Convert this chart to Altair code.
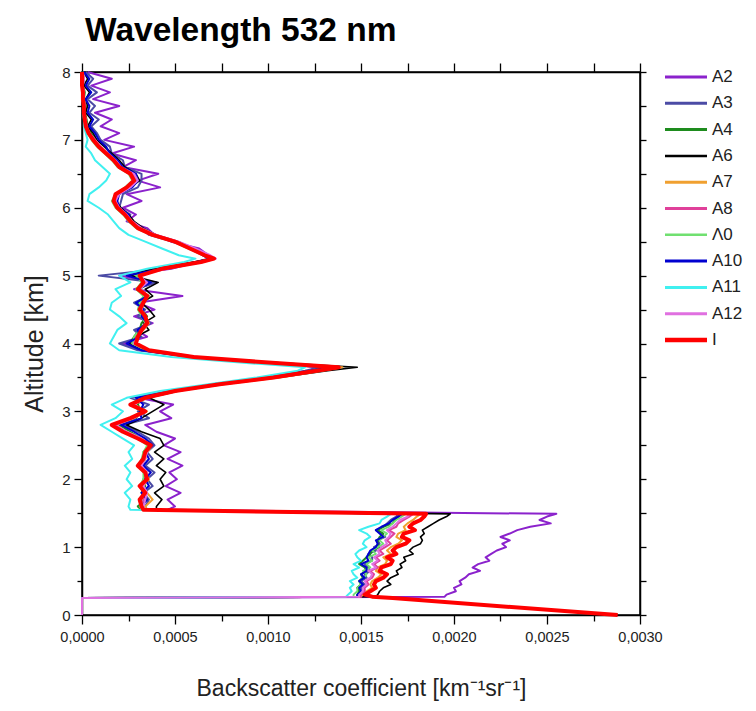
import altair as alt
import pandas as pd

# Altitude grid (km), shared by all profiles (top to bottom)
ALT_KM = [8.0, 7.9, 7.8, 7.7, 7.6, 7.5, 7.4, 7.3, 7.2, 7.1, 7.0, 6.9, 6.8, 6.7, 6.6, 6.5, 6.4, 6.3, 6.2, 6.1, 6.0, 5.9, 5.8, 5.7, 5.6, 5.5, 5.4, 5.3,
          5.25, 5.2, 5.1, 5.0, 4.9, 4.8, 4.7, 4.6, 4.5, 4.4, 4.3, 4.2, 4.1, 4.0, 3.9, 3.8, 3.7,
          3.65, 3.6, 3.5, 3.4, 3.3, 3.2, 3.1, 3.0, 2.9, 2.8, 2.7, 2.6, 2.5, 2.4, 2.3, 2.2, 2.1, 2.0, 1.9, 1.8, 1.7, 1.6,
          1.55, 1.49,
          1.45, 1.4, 1.35, 1.3, 1.25, 1.2, 1.15, 1.1, 1.05, 1.0, 0.95, 0.9, 0.85, 0.8, 0.75, 0.7, 0.65, 0.6, 0.55, 0.5, 0.45, 0.4, 0.35, 0.3,
          0.27, 0.25, 0.0]

# Backscatter values in units of 1e-4 km^-1 sr^-1
A2 = [0.3, 1.6, 0.5, 1.5, 0.6, 2.0, 0.7, 1.6, 1.0, 2.0, 1.2, 2.8, 1.6, 2.9, 2.2, 4.1, 3.0, 4.2, 2.4, 3.2, 2.2, 2.9, 2.4, 3.5, 3.9, 4.8, 6.3, 6.8,
      6.9, 6.2, 4.8, 2.0, 4.0, 2.8, 5.4, 3.0, 3.9, 2.8, 3.8, 2.9, 3.5, 2.2, 3.2, 6.2, 10.8,
      12.6, 12.2, 9.8, 7.2, 4.6, 3.0, 4.9, 4.2, 4.8, 3.4, 4.0, 5.0, 4.4, 5.3, 4.6, 5.4, 4.7, 5.1, 4.5, 5.3, 4.6, 5.0,
      4.6, 25.5,
      25.0, 24.6, 25.2, 24.1, 23.4, 23.0, 22.5, 23.0, 22.6, 22.8, 22.3, 22.0, 21.7, 21.9, 21.3, 21.0, 21.4, 20.8, 20.6, 20.3, 20.4, 20.0, 20.1, 19.6,
      19.5, 0.0, 0.0]
A3 = [0.2, 0.6, 0.3, 0.8, 0.3, 0.7, 0.4, 0.9, 0.5, 0.8, 1.0, 1.5, 1.6, 2.2, 2.3, 3.2, 3.2, 3.0, 2.2, 2.1, 2.0, 2.6, 2.5, 3.2, 3.6, 4.9, 5.9, 6.5,
      6.8, 6.1, 4.4, 0.9, 4.0, 2.9, 3.6, 2.8, 3.4, 3.0, 3.7, 2.8, 3.2, 2.0, 3.0, 5.9, 10.6,
      12.8, 12.0, 9.9, 7.0, 4.8, 2.6, 3.6, 3.0, 3.6, 2.2, 3.0, 3.6, 3.9, 3.5, 3.8, 3.4, 3.9, 3.5, 3.8, 3.3, 3.6, 3.4,
      3.5, 17.0,
      16.9, 16.6, 16.4, 16.2, 15.8, 16.1, 16.3, 15.9, 16.0, 15.7, 15.8, 15.4, 15.6, 15.6, 15.2, 15.4, 15.5, 15.2, 15.3, 15.0, 15.2, 15.0, 15.1, 14.9,
      14.9, 0.0, 0.0]
A4 = [0.05, 0.1, 0.05, 0.15, 0.1, 0.2, 0.15, 0.25, 0.3, 0.5, 0.7, 1.0, 1.4, 1.8, 2.1, 2.7, 2.9, 2.5, 1.9, 1.8, 2.0, 2.4, 2.7, 3.1, 3.9, 5.0, 5.8, 6.5,
      6.9, 6.2, 4.2, 3.0, 3.6, 3.1, 3.4, 3.0, 3.2, 3.5, 3.2, 3.1, 2.8, 2.6, 3.4, 5.8, 10.8,
      13.2, 12.4, 10.0, 7.2, 4.8, 3.2, 3.0, 3.2, 2.9, 2.0, 2.6, 3.2, 3.6, 3.3, 3.4, 3.2, 3.5, 3.3, 3.4, 3.2, 3.5, 3.0,
      3.2, 17.2,
      17.0, 16.8, 16.7, 16.2, 15.9, 16.2, 16.0, 15.9, 15.9, 16.0, 15.6, 15.5, 15.3, 15.1, 14.9, 15.2, 15.3, 15.0, 15.1, 14.9, 15.0, 14.8, 14.9, 14.8,
      14.8, 0.0, 0.0]
A6 = [0.1, 0.3, 0.1, 0.4, 0.2, 0.3, 0.2, 0.5, 0.3, 0.6, 0.8, 1.2, 1.6, 2.0, 2.3, 2.9, 3.1, 2.6, 2.0, 1.8, 2.1, 2.5, 2.8, 3.3, 4.0, 5.2, 6.0, 6.6,
      7.0, 6.0, 3.8, 2.6, 4.1, 3.4, 3.8, 3.2, 3.6, 3.9, 3.3, 3.6, 2.9, 2.5, 3.4, 5.8, 11.5,
      14.8, 13.2, 10.6, 7.6, 5.2, 3.6, 4.4, 3.8, 3.2, 2.4, 3.2, 4.2, 4.4, 3.9, 4.4, 4.0, 4.5, 4.2, 4.4, 3.9, 4.3, 4.0,
      4.0, 19.8,
      19.6, 19.2, 18.9, 18.6, 18.3, 18.4, 18.2, 18.3, 18.2, 17.8, 17.6, 17.8, 17.3, 17.4, 17.1, 17.2, 16.9, 17.0, 16.6, 16.4, 16.6, 16.2, 16.0, 15.9,
      15.8, 0.0, 0.0]
A7 = [0.0, 0.05, 0.0, 0.1, 0.05, 0.1, 0.1, 0.2, 0.2, 0.4, 0.6, 0.9, 1.3, 1.7, 2.0, 2.6, 2.8, 2.4, 1.9, 1.7, 1.9, 2.3, 2.6, 3.0, 3.8, 5.0, 5.8, 6.6,
      7.0, 6.3, 4.3, 3.0, 3.4, 3.1, 3.6, 3.3, 3.2, 3.4, 3.6, 3.3, 3.0, 2.8, 3.6, 6.1, 11.3,
      14.0, 12.9, 10.6, 7.6, 5.1, 3.5, 2.8, 3.5, 2.8, 1.8, 2.4, 3.2, 3.8, 3.5, 3.4, 3.2, 3.5, 3.6, 3.3, 3.5, 3.8, 3.4,
      3.5, 18.2,
      18.0, 17.8, 17.5, 17.3, 17.4, 17.0, 16.9, 17.2, 17.0, 16.6, 16.4, 16.6, 16.2, 16.4, 16.3, 15.9, 15.8, 16.1, 15.9, 15.6, 15.5, 15.6, 15.3, 15.1,
      15.0, 0.0, 0.0]
A8 = [0.05, 0.1, 0.05, 0.1, 0.1, 0.15, 0.1, 0.2, 0.25, 0.4, 0.7, 1.0, 1.4, 1.8, 2.1, 2.7, 2.9, 2.5, 1.9, 1.8, 2.0, 2.4, 2.7, 3.1, 3.9, 5.1, 6.0, 6.8,
      7.1, 6.5, 4.4, 3.0, 3.4, 3.0, 3.4, 3.2, 3.1, 3.3, 3.4, 3.1, 2.9, 2.7, 3.5, 6.0, 11.0,
      13.5, 12.5, 10.2, 7.3, 4.9, 3.3, 2.7, 3.3, 2.7, 1.7, 2.3, 3.1, 3.6, 3.4, 3.3, 3.1, 3.4, 3.4, 3.2, 3.4, 3.3, 3.2,
      3.3, 17.8,
      17.6, 17.3, 17.0, 16.9, 16.5, 16.8, 16.6, 16.4, 16.6, 16.3, 16.0, 16.2, 15.8, 16.0, 15.7, 15.9, 15.5, 15.7, 15.6, 15.3, 15.4, 15.2, 15.2, 15.0,
      15.0, 0.0, 0.0]
A9 = [0.0, 0.05, 0.0, 0.05, 0.05, 0.1, 0.05, 0.15, 0.15, 0.3, 0.5, 0.8, 1.2, 1.6, 1.9, 2.5, 2.7, 2.3, 1.8, 1.6, 1.8, 2.2, 2.5, 2.9, 3.7, 4.9, 5.7, 6.5,
      6.9, 6.2, 4.2, 2.9, 3.2, 2.9, 3.3, 3.1, 3.0, 3.2, 3.4, 3.1, 2.8, 2.7, 3.4, 5.9, 10.8,
      13.3, 12.4, 10.0, 7.2, 4.8, 3.2, 2.6, 3.2, 2.6, 1.6, 2.2, 3.0, 3.5, 3.3, 3.2, 3.0, 3.3, 3.3, 3.1, 3.3, 3.2, 3.1,
      3.2, 17.4,
      17.2, 16.9, 16.7, 16.5, 16.1, 16.4, 16.2, 16.0, 16.2, 15.9, 15.6, 15.8, 15.4, 15.6, 15.3, 15.5, 15.1, 15.3, 15.2, 14.9, 15.0, 14.8, 14.8, 14.6,
      14.6, 0.0, 0.0]
A10 = [0.1, 0.4, 0.2, 0.5, 0.2, 0.4, 0.3, 0.6, 0.4, 0.7, 0.9, 1.3, 1.5, 1.9, 2.2, 2.9, 3.0, 2.7, 2.0, 1.9, 2.0, 2.5, 2.6, 3.1, 3.8, 5.0, 5.9, 6.5,
       6.9, 6.2, 4.3, 2.4, 3.7, 3.0, 3.5, 2.9, 3.3, 3.2, 3.5, 3.0, 3.1, 2.4, 3.2, 5.8, 10.9,
       13.3, 12.3, 10.0, 7.1, 4.9, 2.9, 3.3, 3.1, 3.2, 2.1, 2.8, 3.4, 3.8, 3.4, 3.6, 3.3, 3.7, 3.4, 3.6, 3.2, 3.5, 3.2,
       3.4, 17.2,
       17.0, 16.7, 16.5, 16.1, 15.8, 16.0, 16.2, 15.8, 15.9, 15.8, 15.5, 15.4, 15.3, 15.4, 15.0, 15.3, 15.3, 15.0, 15.2, 14.9, 15.1, 14.9, 15.0, 14.8,
       14.8, 0.0, 0.0]
A11 = [0.0, 0.05, 0.0, 0.05, 0.0, 0.1, 0.05, 0.1, 0.1, 0.2, 0.3, 0.2, 0.5, 0.7, 1.1, 1.5, 1.3, 0.9, 0.4, 0.3, 0.9, 1.4, 1.7, 2.0, 2.5, 3.4, 4.3, 5.2,
       6.1, 5.5, 3.5, 2.0, 2.6, 1.8, 2.1, 1.6, 1.5, 2.0, 2.4, 1.9, 1.7, 1.5, 2.0, 4.8, 9.5,
       12.0, 11.6, 9.4, 6.8, 4.2, 2.4, 1.6, 2.2, 1.8, 1.0, 1.6, 2.2, 2.8, 2.5, 2.7, 2.3, 2.6, 2.4, 2.7, 2.3, 2.6, 2.5,
       2.6, 16.6,
       16.4, 16.1, 16.0, 15.4, 14.9, 15.3, 15.5, 15.2, 15.1, 15.3, 14.9, 14.7, 14.8, 15.0, 14.6, 14.9, 14.5, 14.6, 14.8, 14.4, 14.6, 14.4, 14.5, 14.3,
       14.2, 0.0, 0.0]
A12 = [0.05, 0.1, 0.05, 0.1, 0.1, 0.15, 0.1, 0.2, 0.25, 0.4, 0.7, 1.0, 1.4, 1.8, 2.1, 2.8, 3.0, 2.6, 2.0, 1.8, 2.0, 2.4, 2.7, 3.2, 4.0, 5.2, 6.1, 6.9,
       7.2, 6.5, 4.5, 3.1, 3.5, 3.1, 3.5, 3.3, 3.2, 3.4, 3.5, 3.2, 3.0, 2.8, 3.6, 6.2, 11.2,
       13.6, 12.6, 10.3, 7.4, 5.0, 3.4, 2.8, 3.4, 2.8, 1.8, 2.4, 3.2, 3.7, 3.5, 3.4, 3.2, 3.5, 3.5, 3.3, 3.5, 3.4, 3.3,
       3.4, 17.6,
       17.5, 17.1, 16.9, 16.7, 16.4, 16.6, 16.5, 16.3, 16.4, 16.1, 15.9, 16.0, 15.7, 15.9, 15.6, 15.8, 15.4, 15.6, 15.5, 15.2, 15.3, 15.1, 15.1, 14.9,
       14.9, 0.0, 0.0]
I_PROF = [0.0, 0.0, 0.0, 0.05, 0.05, 0.1, 0.1, 0.15, 0.2, 0.35, 0.6, 0.9, 1.3, 1.7, 2.0, 2.6, 2.8, 2.4, 1.8, 1.7, 1.9, 2.3, 2.6, 3.0, 3.8, 5.0, 5.8, 6.6,
          7.1, 6.4, 4.3, 3.1, 3.3, 3.0, 3.5, 3.3, 3.1, 3.4, 3.5, 3.2, 3.0, 2.9, 3.6, 6.0, 11.0,
          13.8, 12.6, 10.3, 7.4, 5.0, 3.4, 2.6, 3.4, 2.6, 1.6, 2.2, 3.0, 3.7, 3.4, 3.3, 3.0, 3.4, 3.5, 3.1, 3.4, 3.1, 3.2,
          3.3, 18.5,
          18.4, 18.2, 17.8, 17.6, 17.9, 17.3, 17.2, 17.6, 17.4, 16.9, 16.7, 16.9, 16.4, 16.7, 16.6, 16.1, 16.0, 16.4, 16.2, 15.8, 15.7, 15.8, 15.5, 15.2,
          15.6, 16.7, 28.8]

SERIES = ["A2", "A3", "A4", "A6", "A7", "A8", "Λ0", "A10", "A11", "A12", "I"]
PROFILES = [A2, A3, A4, A6, A7, A8, A9, A10, A11, A12, I_PROF]
COLORS = ["#8B22CC", "#4B4BA5", "#1E8C1E", "#000000", "#F0A030", "#E0409A",
          "#70E070", "#0000D0", "#40F0F0", "#E070E0", "#FF0000"]
WIDTHS = [2.0, 2.0, 2.0, 1.6, 2.0, 2.0, 1.8, 2.0, 2.0, 2.0, 4.0]
LEGEND_WIDTHS = [3, 3, 3, 2.5, 3, 3, 2.5, 3, 3, 3, 4.5]

X_TICKS = [0, 0.00025, 0.0005, 0.00075, 0.001, 0.00125, 0.0015, 0.00175, 0.002, 0.00225, 0.0025, 0.00275, 0.003]
Y_TICKS = [0, 0.5, 1, 1.5, 2, 2.5, 3, 3.5, 4, 4.5, 5, 5.5, 6, 6.5, 7, 7.5, 8]

rows = []
for name, prof, w in zip(SERIES, PROFILES, WIDTHS):
    assert len(prof) == len(ALT_KM), (name, len(prof))
    for i, (a, v) in enumerate(zip(ALT_KM, prof)):
        rows.append({"series": name, "idx": i, "alt": a, "v4": v, "sw": w})
df = pd.DataFrame(rows)
legend_df = pd.DataFrame({"series": SERIES, "sw": LEGEND_WIDTHS})

FONT = "Liberation Sans, Arial, sans-serif"
major_x = "round(datum.value*4000) % 2 === 0"
major_y = "round(datum.value*2) % 2 === 0"
color_scale = alt.Scale(domain=SERIES, range=COLORS)

x_enc = alt.X("v:Q", scale=alt.Scale(domain=[0, 0.003], nice=False, zero=False),
              axis=alt.Axis(values=X_TICKS, title="Backscatter coefficient [km⁻¹sr⁻¹]",
                            labelExpr=f"{major_x} ? replace(format(datum.value, '.4f'), '.', ',') : ''",
                            tickSize={"condition": {"test": major_x, "value": 9}, "value": 6},
                            labelOverlap=False, labelFlush=False, grid=False,
                            labelFontSize=14.5, titleFontSize=23, titlePadding=34,
                            labelPadding=6))
y_enc = alt.Y("alt:Q", scale=alt.Scale(domain=[0, 8], nice=False),
              axis=alt.Axis(values=Y_TICKS, title="Altitude [km]",
                            labelExpr=f"{major_y} ? format(datum.value, 'd') : ''",
                            tickSize={"condition": {"test": major_y, "value": 8}, "value": 5},
                            labelOverlap=False, labelFlush=False, grid=False,
                            labelFontSize=15, titleFontSize=25, titlePadding=14,
                            labelPadding=4))

lines = alt.Chart(df).transform_calculate(v="datum.v4 / 10000").mark_line(
    strokeJoin="round").encode(
    x=x_enc,
    y=y_enc,
    color=alt.Color("series:N", scale=color_scale, legend=None),
    strokeWidth=alt.StrokeWidth("sw:Q", scale=None),
    order=alt.Order("idx:Q"),
)

frame = alt.Chart(df).transform_calculate(v="datum.v4 / 10000").mark_point(opacity=0).encode(
    x=alt.X("v:Q", axis=alt.Axis(orient="top", values=X_TICKS, labels=False, title=None,
                                 tickSize=9, grid=False)),
    y=alt.Y("alt:Q", axis=alt.Axis(orient="right", values=Y_TICKS, labels=False, title=None,
                                   tickSize=6, grid=False)),
)

# Legend drawn to the right of the plot (series positioned by a point scale)
leg_y = alt.Y("series:N", sort=SERIES,
              scale=alt.Scale(type="point", domain=SERIES, range=[5, 268], padding=0),
              axis=None)
leg_lines = alt.Chart(legend_df).mark_rule().encode(
    x=alt.value(583), x2=alt.value(625), y=leg_y,
    color=alt.Color("series:N", scale=color_scale, legend=None),
    strokeWidth=alt.StrokeWidth("sw:Q", scale=None),
)
leg_text = alt.Chart(legend_df).mark_text(align="left", baseline="middle", fontSize=17,
                                          font=FONT, color="#222").encode(
    x=alt.value(630), y=leg_y, text="series:N",
)

chart = alt.layer(lines, frame, leg_lines, leg_text).resolve_axis(
    x="independent", y="independent").resolve_scale(y="independent").properties(
    width=558, height=543,
    title=alt.TitleParams("Wavelength 532 nm", anchor="start", frame="group", fontSize=33.5,
                          font=FONT, fontWeight="bold", color="#000", offset=14, dx=3),
    padding={"left": 82, "top": 72, "right": 116, "bottom": 96},
    autosize=alt.AutoSizeParams(type="none"),
).configure_axis(
    domainColor="#000", domainWidth=1.5, tickColor="#000", tickWidth=1.3,
    labelFont=FONT, titleFont=FONT, labelColor="#222", titleColor="#222",
    titleFontWeight="normal",
).configure_view(stroke="#000", strokeWidth=1.5)

chart.save("out.html", embed_options={"renderer": "svg", "actions": False})
